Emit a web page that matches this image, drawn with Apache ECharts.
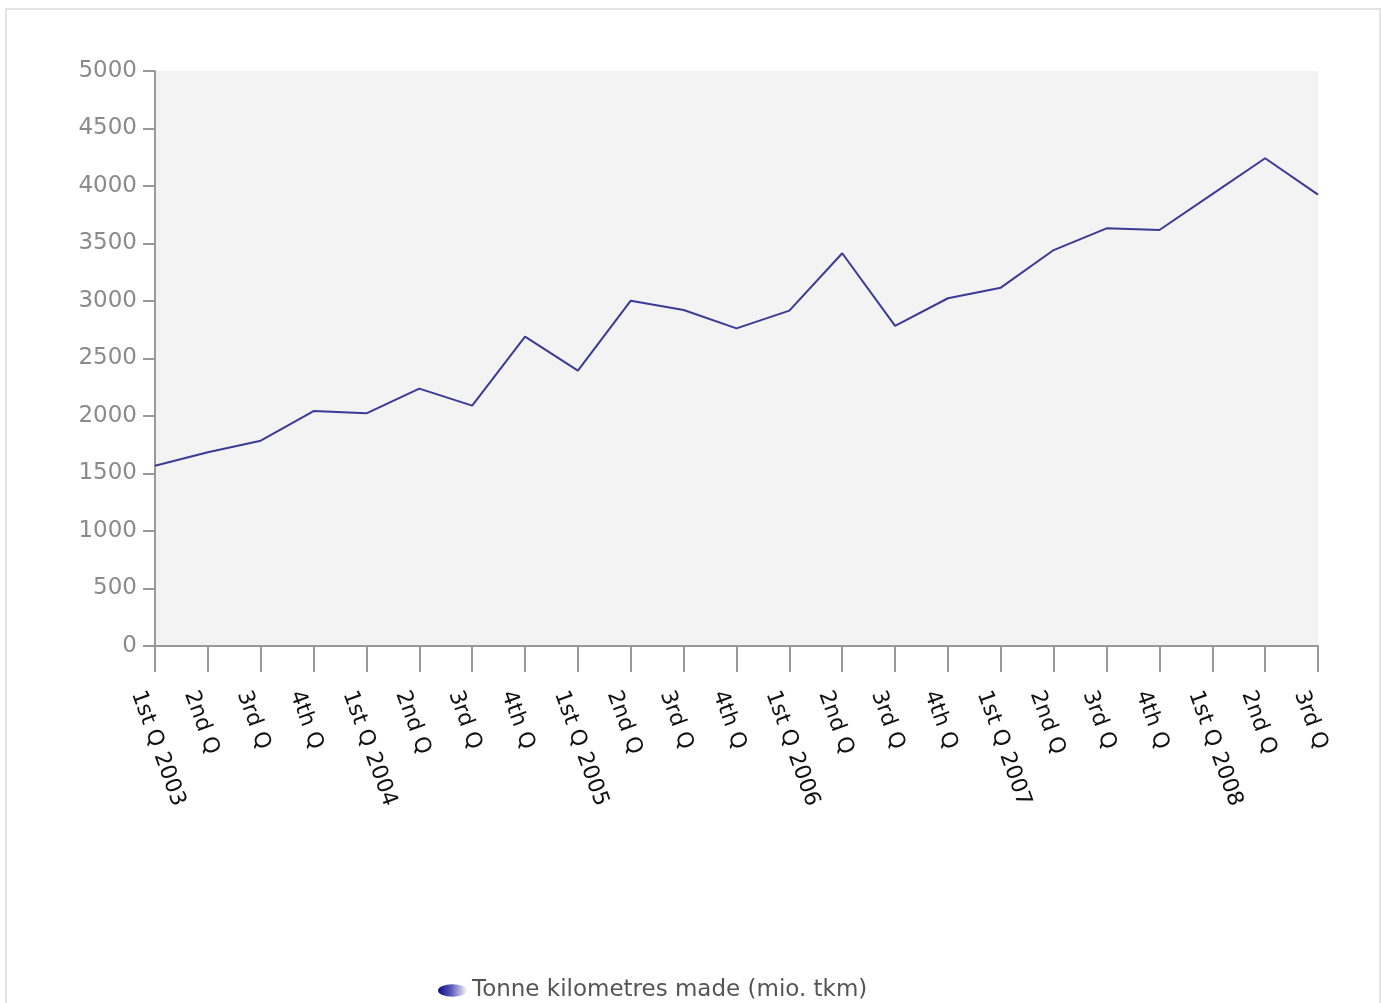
<!DOCTYPE html>
<html>
<head>
<meta charset="utf-8">
<script src="https://cdn.jsdelivr.net/npm/echarts@6/dist/echarts.min.js"></script>
<style>
html,body{margin:0;padding:0;background:#fff;}
#chart{position:absolute;left:0;top:0;width:1381px;height:1003px;}
#frame{position:absolute;left:5px;top:8px;width:1372px;height:1000px;border:2px solid #e3e3e3;pointer-events:none;}
</style>
</head>
<body>
<div id="chart"></div>
<div id="frame"></div>
<script>
const categories = [
  "1st Q 2003","2nd Q","3rd Q","4th Q",
  "1st Q 2004","2nd Q","3rd Q","4th Q",
  "1st Q 2005","2nd Q","3rd Q","4th Q",
  "1st Q 2006","2nd Q","3rd Q","4th Q",
  "1st Q 2007","2nd Q","3rd Q","4th Q",
  "1st Q 2008","2nd Q","3rd Q"
];
const seriesName = "Tonne kilometres made (mio. tkm)";
const tonneKm = [
  1568, 1685, 1785, 2043,
  2023, 2238, 2090, 2690,
  2394, 3003, 2922, 2762,
  2916, 3415, 2783, 3024,
  3116, 3443, 3632, 3617,
  3930, 4241, 3925
];
const yMin = 0, yMax = 5000, yStep = 500;

const chart = echarts.init(document.getElementById('chart'));
chart.setOption({
  animation: false,
  backgroundColor: '#ffffff',
  grid: {
    left: 155, right: 63, top: 71, bottom: 357,
    show: true, backgroundColor: '#f3f3f3', borderWidth: 0
  },
  legend: {
    top: 974,
    left: 433,
    itemWidth: 29, itemHeight: 13,
    itemGap: 10,
    icon: 'path://M0,6 A14,6 0 1 1 28,6 A14,6 0 1 1 0,6 Z',
    textStyle: { color: '#555', fontSize: 23, fontFamily: 'DejaVu Sans' },
    data: [{
      name: seriesName,
      itemStyle: {
        color: { type: 'linear', x: 0, y: 0, x2: 1, y2: 0,
          colorStops: [{ offset: 0, color: '#0c0c80' }, { offset: 0.45, color: '#5a5ab8' }, { offset: 1, color: '#f6f6fc' }] }
      }
    }]
  },
  xAxis: {
    type: 'category',
    data: categories,
    boundaryGap: false,
    axisLine: { show: true, lineStyle: { color: '#999', width: 2 } },
    axisTick: { show: true, alignWithLabel: true, length: 26, lineStyle: { color: '#999', width: 2 } },
    axisLabel: {
      interval: 0, rotate: -70, margin: 39,
      align: 'left', verticalAlign: 'middle',
      lineHeight: 19,
      formatter: function (v) { return '\n\n' + v; },
      color: '#111', fontSize: 22, fontFamily: 'DejaVu Sans'
    },
    splitLine: { show: false }
  },
  yAxis: {
    type: 'value',
    min: yMin, max: yMax, interval: yStep,
    axisLine: { show: true, lineStyle: { color: '#999', width: 2 } },
    axisTick: { show: true, length: 12, lineStyle: { color: '#999', width: 2 } },
    axisLabel: {
      margin: 18, color: '#8a8a8a', fontSize: 23, fontFamily: 'DejaVu Sans',
      formatter: function (v) { return String(v); }
    },
    splitLine: { show: false }
  },
  series: [{
    name: seriesName,
    type: 'line',
    data: tonneKm,
    showSymbol: false,
    symbol: 'none',
    lineStyle: { color: '#3a3a98', width: 2 },
    itemStyle: { color: '#3a3a98' }
  }]
});
</script>
</body>
</html>
